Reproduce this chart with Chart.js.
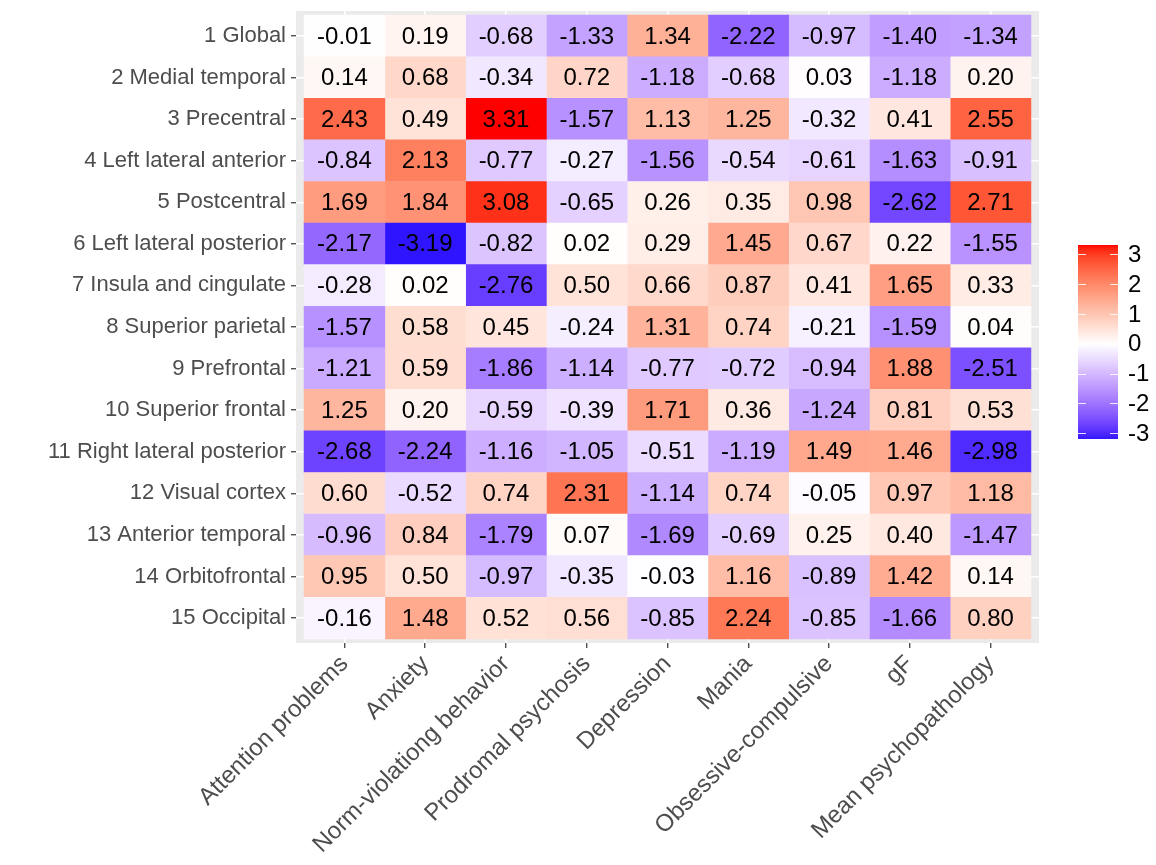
<!DOCTYPE html>
<html>
<head>
<meta charset="utf-8">
<script src="https://cdn.jsdelivr.net/npm/chart.js@4.4.1/dist/chart.umd.min.js"></script>
<style>
  body { margin: 0; background: #fff; }
</style>
</head>
<body>
<canvas id="heat" width="1156" height="865"></canvas>
<script>
const regions = ['1 Global', '2 Medial temporal', '3 Precentral', '4 Left lateral anterior', '5 Postcentral',
  '6 Left lateral posterior', '7 Insula and cingulate', '8 Superior parietal', '9 Prefrontal',
  '10 Superior frontal', '11 Right lateral posterior', '12 Visual cortex', '13 Anterior temporal',
  '14 Orbitofrontal', '15 Occipital'];
const measures = ['Attention problems', 'Anxiety', 'Norm-violationg behavior', 'Prodromal psychosis',
  'Depression', 'Mania', 'Obsessive-compulsive', 'gF', 'Mean psychopathology'];

// one array per measure, rows in region order
const attentionProblems = [-0.01, 0.14, 2.43, -0.84, 1.69, -2.17, -0.28, -1.57, -1.21, 1.25, -2.68, 0.60, -0.96, 0.95, -0.16];
const anxiety = [0.19, 0.68, 0.49, 2.13, 1.84, -3.19, 0.02, 0.58, 0.59, 0.20, -2.24, -0.52, 0.84, 0.50, 1.48];
const normViolating = [-0.68, -0.34, 3.31, -0.77, 3.08, -0.82, -2.76, 0.45, -1.86, -0.59, -1.16, 0.74, -1.79, -0.97, 0.52];
const prodromal = [-1.33, 0.72, -1.57, -0.27, -0.65, 0.02, 0.50, -0.24, -1.14, -0.39, -1.05, 2.31, 0.07, -0.35, 0.56];
const depression = [1.34, -1.18, 1.13, -1.56, 0.26, 0.29, 0.66, 1.31, -0.77, 1.71, -0.51, -1.14, -1.69, -0.03, -0.85];
const mania = [-2.22, -0.68, 1.25, -0.54, 0.35, 1.45, 0.87, 0.74, -0.72, 0.36, -1.19, 0.74, -0.69, 1.16, 2.24];
const obsessive = [-0.97, 0.03, -0.32, -0.61, 0.98, 0.67, 0.41, -0.21, -0.94, -1.24, 1.49, -0.05, 0.25, -0.89, -0.85];
const gF = [-1.40, -1.18, 0.41, -1.63, -2.62, 0.22, 1.65, -1.59, 1.88, 0.81, 1.46, 0.97, 0.40, 1.42, -1.66];
const meanPsycho = [-1.34, 0.20, 2.55, -0.91, 2.71, -1.55, 0.33, 0.04, -2.51, 0.53, -2.98, 1.18, -1.47, 0.14, 0.80];

const legendTicks = [3, 2, 1, 0, -1, -2, -3];

const columns = [attentionProblems, anxiety, normViolating, prodromal, depression, mania, obsessive, gF, meanPsycho];
const allValues = columns.flat();
const minVal = Math.min(...allValues);
const maxVal = Math.max(...allValues);
const maxAbs = Math.max(Math.abs(minVal), Math.abs(maxVal));

// blue - white - red, interpolated in Lab like ggplot's gradient2
function toLab([r, g, b]) {
  const lin = c => { c /= 255; return c <= 0.04045 ? c / 12.92 : Math.pow((c + 0.055) / 1.055, 2.4); };
  const R = lin(r), G = lin(g), B = lin(b);
  const X = (0.4124 * R + 0.3576 * G + 0.1805 * B) / 0.95047;
  const Y = 0.2126 * R + 0.7152 * G + 0.0722 * B;
  const Z = (0.0193 * R + 0.1192 * G + 0.9505 * B) / 1.08883;
  const f = t => t > 0.008856 ? Math.cbrt(t) : 7.787 * t + 16 / 116;
  return [116 * f(Y) - 16, 500 * (f(X) - f(Y)), 200 * (f(Y) - f(Z))];
}
function fromLab([L, a, b]) {
  const fy = (L + 16) / 116, fx = fy + a / 500, fz = fy - b / 200;
  const inv = t => t * t * t > 0.008856 ? t * t * t : (t - 16 / 116) / 7.787;
  const X = inv(fx) * 0.95047, Y = inv(fy), Z = inv(fz) * 1.08883;
  const gam = c => {
    c = c <= 0.0031308 ? 12.92 * c : 1.055 * Math.pow(c, 1 / 2.4) - 0.055;
    return Math.round(Math.min(1, Math.max(0, c)) * 255);
  };
  return [gam(3.2406 * X - 1.5372 * Y - 0.4986 * Z),
          gam(-0.9689 * X + 1.8758 * Y + 0.0415 * Z),
          gam(0.0557 * X - 0.2040 * Y + 1.0570 * Z)];
}
const labWhite = toLab([255, 255, 255]);
const labRed = toLab([255, 0, 0]);
const labBlue = toLab([0, 0, 255]);

function fillFor(v) {
  const t = Math.min(1, Math.abs(v) / maxAbs);
  const end = v >= 0 ? labRed : labBlue;
  const lab = labWhite.map((w, i) => w + (end[i] - w) * t);
  const [r, g, b] = fromLab(lab);
  return `rgb(${r},${g},${b})`;
}

const datasets = columns.map((vals, c) => ({
  label: measures[c],
  data: vals.map((v, r) => ({ x: [c - 0.5, c + 0.5], y: r })),
  backgroundColor: vals.map(fillFor),
  grouped: false,
  barPercentage: 1,
  categoryPercentage: 1,
  borderWidth: 0
}));

const FONT = '"Liberation Sans", Arial, Helvetica, sans-serif';
Chart.defaults.font.family = FONT;

const panelBg = {
  id: 'panelBg',
  beforeDraw(chart) {
    const { ctx, chartArea: a } = chart;
    ctx.save();
    ctx.fillStyle = '#fff';
    ctx.fillRect(0, 0, chart.width, chart.height);
    ctx.fillStyle = '#ebebeb';
    ctx.fillRect(a.left, a.top, a.right - a.left, a.bottom - a.top);
    ctx.restore();
  }
};

const cellLabels = {
  id: 'cellLabels',
  afterDatasetsDraw(chart) {
    const ctx = chart.ctx;
    ctx.save();
    ctx.font = '24px ' + FONT;
    ctx.fillStyle = '#000';
    ctx.textAlign = 'center';
    ctx.textBaseline = 'middle';
    columns.forEach((vals, c) => {
      chart.getDatasetMeta(c).data.forEach((bar, r) => {
        const p = bar.getCenterPoint();
        ctx.fillText(vals[r].toFixed(2), p.x, p.y + 1);
      });
    });
    ctx.restore();
  }
};

const colorBar = {
  id: 'colorBar',
  afterDraw(chart) {
    const ctx = chart.ctx;
    const x0 = 1078, w = 40, top = 245, bottom = 439;
    const toY = v => bottom - (v - minVal) / (maxVal - minVal) * (bottom - top);
    ctx.save();
    const grad = ctx.createLinearGradient(0, bottom, 0, top);
    for (let i = 0; i <= 60; i++) {
      grad.addColorStop(i / 60, fillFor(minVal + (maxVal - minVal) * i / 60));
    }
    ctx.fillStyle = grad;
    ctx.fillRect(x0, top, w, bottom - top);
    ctx.strokeStyle = 'rgba(255,255,255,0.85)';
    ctx.lineWidth = 1;
    ctx.font = '24px ' + FONT;
    ctx.textAlign = 'left';
    ctx.textBaseline = 'middle';
    legendTicks.forEach(t => {
      const y = Math.round(toY(t)) + 0.5;
      ctx.beginPath();
      ctx.moveTo(x0, y); ctx.lineTo(x0 + 8, y);
      ctx.moveTo(x0 + w - 8, y); ctx.lineTo(x0 + w, y);
      ctx.stroke();
      ctx.fillStyle = '#000';
      ctx.fillText(String(t), 1128, toY(t) + 1);
    });
    ctx.restore();
  }
};

new Chart(document.getElementById('heat'), {
  type: 'bar',
  data: { datasets },
  plugins: [panelBg, cellLabels, colorBar],
  options: {
    indexAxis: 'y',
    responsive: false,
    animation: false,
    layout: { padding: { top: 11, right: 117, left: 0, bottom: 0 } },
    plugins: {
      legend: { display: false },
      tooltip: { enabled: false }
    },
    scales: {
      x: {
        type: 'linear',
        min: -0.6,
        max: 8.6,
        offset: false,
        afterBuildTicks: s => { s.ticks = measures.map((_, i) => ({ value: i })); },
        afterFit: s => { s.height = 222; s.paddingLeft = 0; s.paddingRight = 0; },
        grid: { offset: false, color: '#fff', lineWidth: 1.5, tickColor: '#333', tickLength: 5, tickWidth: 1.2 },
        border: { display: false },
        ticks: {
          autoSkip: false,
          minRotation: 45,
          maxRotation: 45,
          padding: 2,
          color: '#4d4d4d',
          font: { size: 24 },
          callback: v => measures[v]
        }
      },
      y: {
        type: 'linear',
        reverse: true,
        min: -0.6,
        max: 14.6,
        offset: false,
        afterBuildTicks: s => { s.ticks = regions.map((_, i) => ({ value: i })); },
        afterFit: s => { s.width = 296; s.paddingTop = 0; s.paddingBottom = 0; },
        grid: { offset: false, color: '#fff', lineWidth: 1.5, tickColor: '#333', tickLength: 5, tickWidth: 1.2 },
        border: { display: false },
        ticks: {
          autoSkip: false,
          padding: 5,
          color: '#4d4d4d',
          font: { size: 22 },
          callback: v => regions[v]
        }
      }
    }
  }
});
</script>
</body>
</html>
